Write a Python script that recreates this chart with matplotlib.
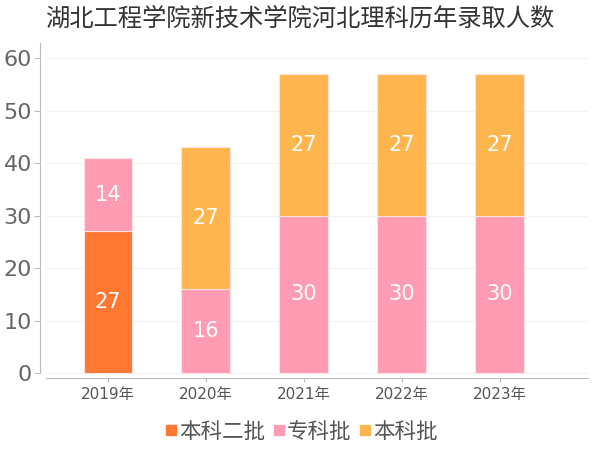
import matplotlib.pyplot as plt
import numpy as np

plt.rcParams['font.family'] = ['DejaVu Sans', 'Noto Sans CJK SC']

years = ['2019年', '2020年', '2021年', '2022年', '2023年']
benke2 = [27, 0, 0, 0, 0]
zhuanke = [14, 16, 30, 30, 30]
benke = [0, 27, 27, 27, 27]

series = [('本科二批', benke2, '#ff7832'),
          ('专科批', zhuanke, '#ff9cb4'),
          ('本科批', benke, '#ffb54d')]

fig = plt.figure(figsize=(6, 4.5), dpi=100)
ax = fig.add_axes([46 / 600, 1 - 378 / 450, 542 / 600, 335 / 450])

x = np.arange(len(years))
bottom = np.zeros(len(years))
for name, vals, color in series:
    vals = np.array(vals)
    ax.bar(x, vals, 0.5, bottom=bottom, color=color,
           edgecolor='#ffe4e4', linewidth=0.8, label=name)
    for xi, b, v in zip(x, bottom, vals):
        if v > 0:
            ax.text(xi, b + v / 2, str(v), ha='center', va='center',
                    color='white', fontsize=15)
    bottom = bottom + vals

ax.set_xlim(-0.633, 4.9)
ax.set_ylim(-0.95, 62.9)
ax.set_yticks([0, 10, 20, 30, 40, 50, 60])
ax.set_xticks(x)
ax.set_xticklabels(years)
ax.grid(axis='y', color='#f2f2f2', linewidth=0.8)
ax.set_axisbelow(True)

for s in ['top', 'right']:
    ax.spines[s].set_visible(False)
ax.spines['left'].set_position(('outward', 4))
ax.spines['left'].set_bounds(0, 62.9)
ax.spines['left'].set_color('#bbbbbb')
ax.spines['bottom'].set_color('#bbbbbb')
ax.tick_params(axis='y', colors='#bbbbbb', labelcolor='#666666',
               labelsize=16, length=4, pad=2)
ax.tick_params(axis='x', colors='#bbbbbb', labelcolor='#555555',
               labelsize=11, length=3)

fig.text(0.5, 1 - 19 / 450, '湖北工程学院新技术学院河北理科历年录取人数',
         fontsize=17.5, color='#333333', ha='center', va='center')

handles = [plt.Line2D([], [], marker='s', linestyle='', markersize=7.5,
                      color=c) for _, _, c in series]
fig.legend(handles, [n for n, _, _ in series], loc='center',
           bbox_to_anchor=(0.5, 1 - 432 / 450), ncol=3, frameon=False,
           fontsize=15.5, handletextpad=0.0, columnspacing=0.2,
           handlelength=0.8, labelcolor='#555555')

plt.savefig('out.png', dpi=100)
